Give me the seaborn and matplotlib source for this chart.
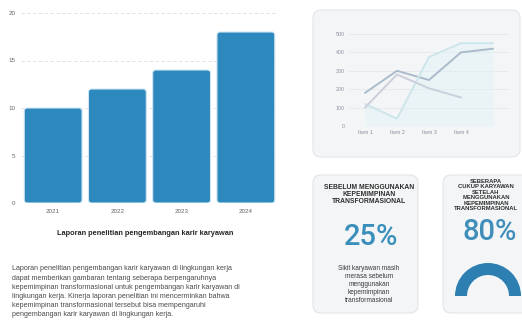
import matplotlib
matplotlib.use("Agg")
import matplotlib.pyplot as plt
import seaborn as sns
import pandas as pd
import numpy as np
from matplotlib.patches import FancyBboxPatch, Wedge

# ---------------- data ----------------
years = ["2021", "2022", "2023", "2024"]
bar_values = [10, 12, 14, 18]
bar_title = "Laporan penelitian pengembangan karir karyawan"
paragraph_lines = [
    "Laporan penelitian pengembangan karir karyawan di lingkungan kerja",
    "dapat memberikan gambaran tentang seberapa berpengaruhnya",
    "kepemimpinan transformasional untuk pengembangan karir karyawan di",
    "lingkungan kerja. Kinerja laporan penelitian ini mencerminkan bahwa",
    "kepemimpinan transformasional tersebut bisa mempengaruhi",
    "pengembangan karir karyawan di lingkungan kerja.",
]

item_labels = ["Item 1", "Item 2", "Item 3", "Item 4"]
series_a = [180, 300, 250, 400, 420]
series_b = [120, 40, 375, 450, 450]
series_c = [100, 280, 205, 155, np.nan]

card1_title = ["SEBELUM MENGGUNAKAN", "KEPEMIMPINAN", "TRANSFORMASIONAL"]
card1_value = 25
card1_desc = ["Sikit karyawan masih", "merasa sebelum", "menggunakan",
              "kepemimpinan", "transformasional"]
card2_title = ["SEBERAPA", "CUKUP KARYAWAN", "SETELAH", "MENGGUNAKAN",
               "KEPEMIMPINAN", "TRANSFORMASIONAL"]
card2_value = 80

# ---------------- figure ----------------
sns.set_theme(style="white")
plt.rcParams['font.family'] = ['Liberation Sans', 'DejaVu Sans']

W, H = 522, 322
fig = plt.figure(figsize=(W / 100, H / 100), dpi=100)
fig.patch.set_facecolor("white")

bg = fig.add_axes([0, 0, 1, 1], zorder=0)
bg.set_xlim(0, W)
bg.set_ylim(H, 0)
bg.axis("off")


def rect(l, t, r, b):
    return [l / W, 1 - b / H, (r - l) / W, (b - t) / H]


panel_fc = "#f4f5f7"
panel_ec = "#e3e5e9"
bg.add_patch(FancyBboxPatch((313, 10), 207, 147, boxstyle="round,pad=0,rounding_size=8",
                            fc=panel_fc, ec=panel_ec, lw=0.8))
bg.add_patch(FancyBboxPatch((313, 175), 105, 138, boxstyle="round,pad=0,rounding_size=8",
                            fc=panel_fc, ec=panel_ec, lw=0.8))
bg.add_patch(FancyBboxPatch((443, 175), 100, 138, boxstyle="round,pad=0,rounding_size=8",
                            fc=panel_fc, ec=panel_ec, lw=0.8))

# ---------------- bar chart ----------------
ax1 = fig.add_axes(rect(21, 13, 278, 203), zorder=2)
ax1.patch.set_alpha(0)
bar_color = "#2d89bd"
sns.barplot(x=years, y=bar_values, color=bar_color, width=0.9, ax=ax1, saturation=1)
ax1.set_xlim(-0.5, 3.5)
ax1.set_ylim(0, 20)
ax1.set_yticks([0, 5, 10, 15, 20])
# rounded bars
px_x = (278 - 21) / 4.0
px_y = (203 - 13) / 20.0
for p in list(ax1.patches):
    x0, w, h = p.get_x(), p.get_width(), p.get_height()
    p.remove()
    r = 3.0 / px_x
    ax1.add_patch(FancyBboxPatch((x0, 0), w, h,
                                 boxstyle=f"round,pad=0,rounding_size={r}",
                                 mutation_aspect=px_x / px_y,
                                 fc=bar_color, ec="#cfe6f3", lw=0.8, zorder=3))
ax1.yaxis.grid(True, color="#dddddd", linestyle=(0, (4, 3)), linewidth=0.6)
ax1.set_axisbelow(True)
for s in ax1.spines.values():
    s.set_visible(False)
ax1.tick_params(axis="both", length=0, labelsize=4.5, labelcolor="#666666", pad=4)
ax1.set_xlabel("")
ax1.set_ylabel("")

bg.text(145, 233, bar_title, ha="center", va="center", fontsize=5.3,
        fontweight="bold", color="#262626")
for i, line in enumerate(paragraph_lines):
    bg.text(12, 269 + 9.1 * i, line, ha="left", va="center", fontsize=5.1, color="#4a4a4a")

# ---------------- line chart ----------------
ax2 = fig.add_axes(rect(349, 34, 509, 126), zorder=2)
ax2.patch.set_alpha(0)
n = len(series_a)
df = pd.DataFrame({
    "x": list(range(n)) * 3,
    "v": series_a + series_b + series_c,
    "s": ["A"] * n + ["B"] * n + ["C"] * n,
})
ax2.fill_between(range(n), series_b, color="#dff1f4", alpha=0.45, lw=0)
sns.lineplot(data=df, x="x", y="v", hue="s",
             palette={"A": "#abbbcc", "B": "#cde6eb", "C": "#cbcfdc"},
             linewidth=1.4, ax=ax2, legend=False)
ax2.set_xlim(-0.5, n - 0.5)
ax2.set_ylim(0, 500)
ax2.set_yticks(range(0, 501, 100))
ax2.set_xticks(range(len(item_labels)))
ax2.set_xticklabels(item_labels)
ax2.yaxis.grid(True, color="#e3e4e8", linewidth=0.5)
for s in ax2.spines.values():
    s.set_visible(False)
ax2.tick_params(axis="both", length=0, labelsize=3.8, labelcolor="#8a8f99", pad=3)
ax2.set_xlabel("")
ax2.set_ylabel("")

# ---------------- cards ----------------
num_font = ["Roboto", "DejaVu Sans"]
for i, line in enumerate(card1_title):
    bg.text(369, 187 + 7 * i, line, ha="center", va="center", fontsize=4.9,
            fontweight="bold", color="#2e2e2e")
bg.text(371, 237, f"{card1_value}%", ha="center", va="center", fontsize=21,
        color="#3a8fba", family=num_font, fontweight="medium")
for i, line in enumerate(card1_desc):
    bg.text(369, 269 + 8 * i, line, ha="center", va="center", fontsize=4.7, color="#3a3a3a")

for i, line in enumerate(card2_title):
    bg.text(486, 181 + 5.5 * i, line, ha="center", va="center", fontsize=4.2,
            fontweight="bold", color="#2e2e2e")
bg.text(490, 232, f"{card2_value}%", ha="center", va="center", fontsize=21,
        color="#3f8fba", family=num_font, fontweight="medium")
bg.add_patch(Wedge((488, 296), 33, 180, 360, width=12, fc="#2c7fb0", ec="none"))

fig.savefig("out.png", dpi=100, facecolor="white")
